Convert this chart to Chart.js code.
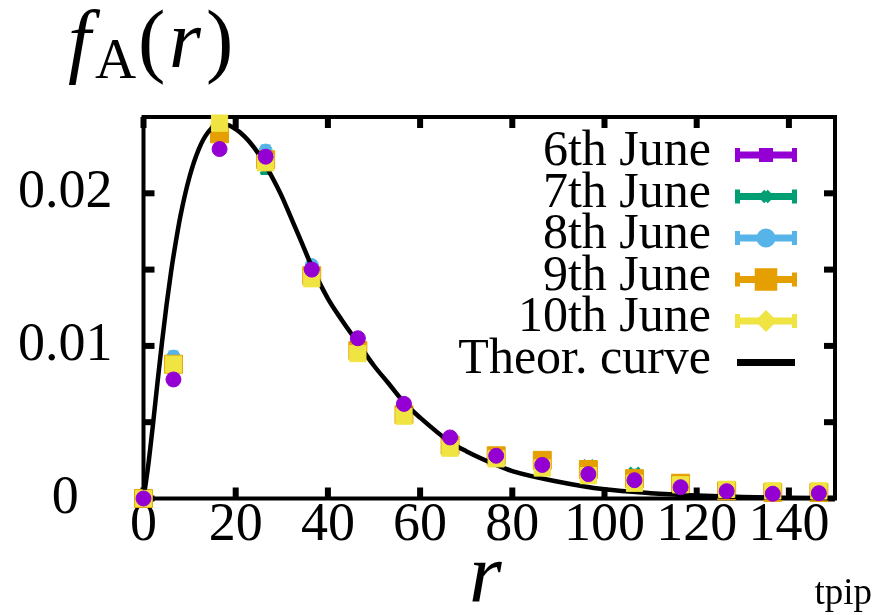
<!DOCTYPE html>
<html><head><meta charset="utf-8">
<script src="https://cdn.jsdelivr.net/npm/chart.js@4/dist/chart.umd.min.js"></script>
<style>html,body{margin:0;padding:0;background:#fff;overflow:hidden}#wrap{width:874px;height:615px;position:relative}
.pre{position:absolute;left:-999px;top:0;font-family:'Liberation Serif',serif;font-size:20px}</style>
</head><body><div id="wrap"><canvas id="c" width="874" height="615"></canvas></div>
<span class="pre">0.02 6th June</span><span class="pre" style="font-style:italic">f r</span>
<script>
// ---- data ----
const rBins = [0, 6.5, 16.5, 26.5, 36.5, 46.5, 56.5, 66.5, 76.5, 86.5, 96.5, 106.5, 116.5, 126.5, 136.5, 146.5];
const june6  = [0, 0.0078, 0.0229, 0.0224, 0.0150, 0.0105, 0.0062, 0.0040, 0.0028, 0.0022, 0.0016, 0.0012, 0.00074, 0.00048, 0.00031, 0.00035];
const june7  = [0, 0.0090, 0.0234, 0.0216, 0.0146, 0.0095, 0.0056, 0.0035, 0.0027, 0.0022, 0.0022, 0.0017, 0.0009, 0.0005, 0.0003, 0.0003];
const june8  = [0, 0.0093, 0.0241, 0.0228, 0.0153, 0.0099, 0.0058, 0.0037, 0.0027, 0.0022, 0.0019, 0.0014, 0.0009, 0.0005, 0.0003, 0.0003];
const june9  = [0, 0.0088, 0.0239, 0.0222, 0.0146, 0.0097, 0.0055, 0.0035, 0.0028, 0.0025, 0.0019, 0.0013, 0.0010, 0.0005, 0.0004, 0.0004];
const june10 = [0, 0.0088, 0.0246, 0.0220, 0.0144, 0.0095, 0.0054, 0.0033, 0.0026, 0.0020, 0.0015, 0.0010, 0.0009, 0.0006, 0.0005, 0.0005];
const errSmall = [0, 0.0003, 0.0003, 0.0003, 0.0002, 0.0002, 0.0002, 0.0002, 0.00015, 0.00015, 0.00015, 0.00015, 0.0001, 0.0001, 0.0001, 0.0001];
const theorR = [0, 1, 2, 3, 4, 5, 6, 7, 8, 10, 12, 14, 16, 18, 20, 22, 24, 26, 28, 30, 32, 34, 36.5, 40, 43, 46.5, 50, 53, 56.5, 60, 66.5, 70, 76.5, 80, 90, 100, 110, 120, 130, 140, 150];
const theorF = [0, 0.0021, 0.0047, 0.0075, 0.0102, 0.0127, 0.0149, 0.0168, 0.0185, 0.0211, 0.0229, 0.0240, 0.0245, 0.0245, 0.0242, 0.0237, 0.0230, 0.0221, 0.0210, 0.0198, 0.0184, 0.0170, 0.0152, 0.0131, 0.0117, 0.0102, 0.0087, 0.0076, 0.0063, 0.0053, 0.0037, 0.0031, 0.0022, 0.0018, 0.0011, 0.0006, 0.00035, 0.0002, 0.0001, 0.00005, 0.00002];
const seriesLabels = ['6th June', '7th June', '8th June', '9th June', '10th June', 'Theor. curve'];
const xTicks = [0, 20, 40, 60, 80, 100, 120, 140];
const yTicks = [0, 0.005, 0.01, 0.015, 0.02];
const yTickLabels = ['0', '', '0.01', '', '0.02'];

const SERIF = "'Liberation Serif', serif";
const pts = (ys) => rBins.map((x, i) => ({x: x, y: ys[i]}));

function mk(label, ys, color, style, radius, bw, order, legendStyle, legendR) {
  return {label, data: pts(ys), err: errSmall, showLine: false, clip: false,
    backgroundColor: color, borderColor: color, pointStyle: style, pointRadius: radius,
    pointBorderWidth: bw, order, legendStyle, legendR};
}

function build() {
const datasets = [
  mk(seriesLabels[0], june6,  '#9400D3', 'circle',   7.5, 1, 1, 'rect', 5),
  mk(seriesLabels[1], june7,  '#009E73', 'crossRot', 7,   3, 6, 'crossRot', 6),
  mk(seriesLabels[2], june8,  '#56B4E9', 'circle',   6.5, 1, 5, 'circle', 6),
  mk(seriesLabels[3], june9,  '#E69F00', 'rect',     12.7, 1, 4, 'rect', 11),
  mk(seriesLabels[4], june10, '#F0E442', 'rect',     11.5, 1, 2, 'rectRot', 6),
  {label: seriesLabels[5], type: 'line', data: theorR.map((x, i) => ({x: x, y: theorF[i]})),
   showLine: true, borderColor: '#000', backgroundColor: '#000', borderWidth: 4.5, pointRadius: 0,
   cubicInterpolationMode: 'monotone', fill: false, order: 3, clip: false, legendStyle: null}
];

const framePlugin = {
  id: 'frame',
  beforeDatasetsDraw(chart) {
    const {ctx, chartArea: a, scales: {x, y}} = chart;
    ctx.save();
    ctx.strokeStyle = '#000';
    ctx.fillStyle = '#000';
    ctx.lineWidth = 4;
    ctx.strokeRect(a.left, a.top, a.right - a.left, a.bottom - a.top);
    const L = 11, W = 6;
    xTicks.forEach(v => {
      const px = x.getPixelForValue(v);
      ctx.fillRect(px - W / 2, a.bottom - L, W, L);
      ctx.fillRect(px - W / 2, a.top, W, L);
    });
    yTicks.forEach(v => {
      const py = y.getPixelForValue(v);
      ctx.fillRect(a.left, py - W / 2, L, W);
      ctx.fillRect(a.right - L, py - W / 2, L, W);
    });
    ctx.restore();
  }
};

const errPlugin = {
  id: 'errbars',
  beforeDatasetDraw(chart, args) {
    const ds = chart.data.datasets[args.index];
    if (!ds.err) return;
    const {ctx, scales: {x, y}} = chart;
    ctx.save();
    ctx.strokeStyle = ds.borderColor;
    ctx.lineWidth = 3;
    ds.data.forEach((p, i) => {
      const e = ds.err[i];
      if (!e) return;
      const px = x.getPixelForValue(p.x);
      const y1 = y.getPixelForValue(p.y - e), y2 = y.getPixelForValue(p.y + e);
      ctx.beginPath();
      ctx.moveTo(px, y1); ctx.lineTo(px, y2);
      ctx.moveTo(px - 5, y1); ctx.lineTo(px + 5, y1);
      ctx.moveTo(px - 5, y2); ctx.lineTo(px + 5, y2);
      ctx.stroke();
    });
    ctx.restore();
  }
};

const textPlugin = {
  id: 'texts',
  afterDraw(chart) {
    const ctx = chart.ctx;
    ctx.save();
    ctx.fillStyle = '#000';
    ctx.textBaseline = 'alphabetic';
    ctx.textAlign = 'left';
    const base = 67;
    const parts = [
      {t: 'f', f: 'italic 82px ' + SERIF, x: 68, y: base},
      {t: 'A', f: '57px ' + SERIF, x: 95, y: 78},
      {t: '(', f: '82px ' + SERIF, x: 138, y: base},
      {t: 'r', f: 'italic 82px ' + SERIF, x: 169, y: base},
      {t: ')', f: '82px ' + SERIF, x: 206, y: base}
    ];
    parts.forEach(p => { ctx.font = p.f; ctx.fillText(p.t, p.x, p.y); });
    const a = chart.chartArea;
    ctx.font = 'italic 84px ' + SERIF;
    ctx.textAlign = 'center';
    ctx.fillText('r', (a.left + a.right) / 2 - 4, 602);
    ctx.font = '37px ' + SERIF;
    ctx.textAlign = 'right';
    ctx.fillText('tpip', 872, 604);

    const rows = chart.data.datasets;
    const textRight = 711, x0 = 737, x1 = 795, y0 = 155, dy = 41.5;
    rows.forEach((ds, i) => {
      const ly = y0 + i * dy;
      ctx.font = '50px ' + SERIF;
      ctx.textAlign = 'right';
      ctx.fillStyle = '#000';
      ctx.fillText(ds.label, textRight, ly + 10);
      ctx.strokeStyle = ds.borderColor;
      ctx.fillStyle = ds.borderColor;
      ctx.lineWidth = 7;
      ctx.beginPath(); ctx.moveTo(x0, ly); ctx.lineTo(x1, ly); ctx.stroke();
      if (ds.legendStyle) {
        ctx.fillRect(x0 - 2, ly - 7, 5, 14);
        ctx.fillRect(x1 - 3, ly - 7, 5, 14);
        Chart.helpers.drawPoint(ctx, {pointStyle: ds.legendStyle, radius: ds.legendR, rotation: 0, borderWidth: 3},
          (x0 + x1) / 2, ly);
        ctx.fill();
      }
    });
    ctx.restore();
  }
};

new Chart(document.getElementById('c'), {
  type: 'scatter',
  data: {datasets},
  options: {
    responsive: false, animation: false, devicePixelRatio: 1,
    layout: {padding: {left: 0, right: 39, top: 117, bottom: 0}},
    plugins: {legend: {display: false}, tooltip: {enabled: false}},
    scales: {
      x: {type: 'linear', min: 0, max: 150,
        afterBuildTicks: s => { s.ticks = xTicks.map(v => ({value: v})); },
        afterFit: s => { s.height = 116.5; },
        grid: {display: false, drawTicks: false}, border: {display: false},
        ticks: {color: '#000', font: {family: SERIF, size: 54, lineHeight: 1}, padding: 0,
          autoSkip: false, maxRotation: 0, minRotation: 0, callback: v => String(v)}},
      y: {type: 'linear', min: 0, max: 0.025,
        afterBuildTicks: s => { s.ticks = yTicks.map(v => ({value: v})); },
        afterFit: s => { s.width = 143.5; },
        grid: {display: false, drawTicks: false}, border: {display: false},
        ticks: {color: '#000', font: {family: SERIF, size: 54, lineHeight: 1}, padding: 31,
          crossAlign: 'center', autoSkip: false, callback: (v, i) => yTickLabels[i]}}
    }
  },
  plugins: [framePlugin, errPlugin, textPlugin]
});
}

let built = false;
function go() { if (!built) { built = true; build(); } }
const loads = ["54px 'Liberation Serif'", "italic 72px 'Liberation Serif'"].map(f => document.fonts.load(f));
Promise.all(loads).then(go, go);
setTimeout(go, 1500);
</script></body></html>
